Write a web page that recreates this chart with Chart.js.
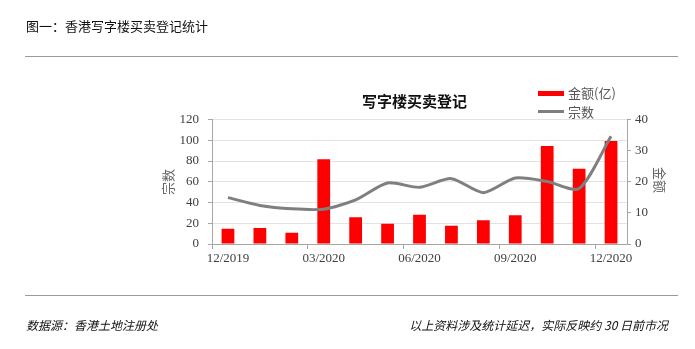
<!DOCTYPE html>
<html>
<head>
<meta charset="utf-8">
<script src="https://cdn.jsdelivr.net/npm/chart.js@4/dist/chart.umd.min.js"></script>
<style>
  html, body { margin: 0; padding: 0; background: #fff; }
  body { width: 695px; height: 349px; position: relative; overflow: hidden;
         font-family: "Noto Sans CJK SC", "Noto Sans", sans-serif; }
  #chart { position: absolute; left: 0; top: 0; }
  .txt { position: absolute; white-space: nowrap; line-height: 1; }
  .rule { position: absolute; left: 25px; width: 653px; height: 1px; background: #9a9a9a; }
  #head { left: 26px; top: 19px; font-size: 13px; color: #111; }
  #title { left: 362px; top: 93px; font-size: 15px; font-weight: bold; color: #111; }
  .foot { top: 319px; font-size: 12px; font-style: italic; color: #111; }
  #src { left: 26px; }
  #note { right: 27px; }
  .leg { left: 568px; font-size: 13px; color: #555; }
  .sw { position: absolute; left: 538px; width: 26px; }
  .ytitle { font-size: 13px; color: #666; }
</style>
</head>
<body>
<canvas id="chart" width="695" height="349"></canvas>

<div class="txt" id="head">图一：香港写字楼买卖登记统计</div>
<div class="rule" style="top:56px"></div>

<div class="txt" id="title">写字楼买卖登记</div>

<div class="sw" style="top:91px;height:5px;background:#ff0000"></div>
<div class="txt leg" style="top:86px">金额(亿)</div>
<div class="sw" style="top:110px;height:3px;background:#7f7f7f"></div>
<div class="txt leg" style="top:105px">宗数</div>

<div class="txt ytitle" style="left:154px;top:176px;transform:rotate(-90deg);transform-origin:13px 6px">宗数</div>
<div class="txt ytitle" style="left:648px;top:174px;transform:rotate(90deg);transform-origin:13px 6px">金额</div>

<div class="rule" style="top:295px"></div>
<div class="txt foot" id="src">数据源：香港土地注册处</div>
<div class="txt foot" id="note">以上资料涉及统计延迟，实际反映约 30 日前市况</div>

<script>
// Monthly office transactions registered in Hong Kong
const months = ['12/2019', '01/2020', '02/2020', '03/2020', '04/2020', '05/2020', '06/2020',
                '07/2020', '08/2020', '09/2020', '10/2020', '11/2020', '12/2020'];
// 金额 (亿) — bars, left scale
const amount = [14.7, 15.4, 10.9, 81.6, 25.7, 19.6, 28.3, 17.7, 22.8, 27.7, 94.5, 72.6, 99.3];
// 宗数 — line, right scale
const count = [14.9, 12.4, 11.3, 11.2, 14.2, 19.6, 18.2, 21.0, 16.5, 21.2, 20.1, 17.8, 34.6];

const leftTicks = [0, 20, 40, 60, 80, 100, 120];
const rightTicks = [0, 10, 20, 30, 40];

const serif = { family: '"Liberation Serif", "DejaVu Serif", serif', size: 13 };
const axisGray = '#a6a6a6';
const gridGray = '#e3e3e3';
const labelGray = '#404040';

new Chart(document.getElementById('chart'), {
  data: {
    labels: months,
    datasets: [
      {
        type: 'line',
        label: '宗数',
        data: count,
        yAxisID: 'y1',
        borderColor: '#7f7f7f',
        borderWidth: 3,
        pointRadius: 0,
        tension: 0.25,
        order: 0
      },
      {
        type: 'bar',
        label: '金额(亿)',
        data: amount,
        yAxisID: 'y',
        backgroundColor: '#ff0000',
        barPercentage: 0.4,
        categoryPercentage: 1,
        order: 1
      }
    ]
  },
  options: {
    responsive: false,
    animation: false,
    layout: { padding: { top: 119.5, left: 0, right: 0, bottom: 0 } },
    plugins: { legend: { display: false }, tooltip: { enabled: false }, title: { display: false } },
    scales: {
      x: {
        type: 'category',
        offset: true,
        grid: {
          offset: true,
          drawOnChartArea: false,
          tickLength: 5,
          color: ctx => (ctx.index % 3 === 0 ? axisGray : 'rgba(0,0,0,0)')
        },
        border: { color: axisGray, width: 1 },
        ticks: {
          autoSkip: false,
          maxRotation: 0,
          padding: 2,
          color: labelGray,
          font: serif,
          callback: (v, i) => (i % 3 === 0 ? months[i] : '')
        },
        afterFit: s => { s.height = 105; }
      },
      y: {
        position: 'left',
        min: 0,
        max: 120,
        afterBuildTicks: s => { s.ticks = leftTicks.map(v => ({ value: v })); },
        grid: { color: gridGray, tickColor: axisGray, tickLength: 4 },
        border: { color: axisGray, width: 1 },
        ticks: { padding: 9, color: labelGray, font: serif },
        afterFit: s => { s.width = 212; }
      },
      y1: {
        position: 'right',
        min: 0,
        max: 40,
        afterBuildTicks: s => { s.ticks = rightTicks.map(v => ({ value: v })); },
        grid: { drawOnChartArea: false, color: axisGray, tickLength: 4 },
        border: { color: axisGray, width: 1 },
        ticks: { padding: 4, color: labelGray, font: serif },
        afterFit: s => { s.width = 68; }
      }
    }
  }
});
</script>
</body>
</html>
